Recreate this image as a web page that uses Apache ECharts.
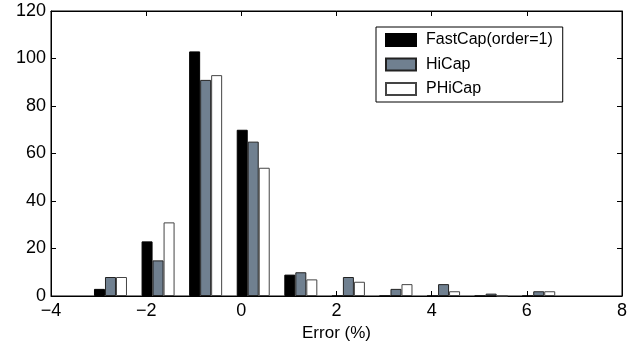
<!DOCTYPE html>
<html>
<head>
<meta charset="utf-8">
<script src="https://cdn.jsdelivr.net/npm/echarts@6/dist/echarts.min.js"></script>
<style>
  html, body { margin: 0; padding: 0; background: #fff; }
  #main { width: 644px; height: 351px; }
</style>
</head>
<body>
<div id="main"></div>
<script>
// 误差区间中心 (%)
const binCenters = [-2.75, -1.75, -0.75, 0.25, 1.25, 2.25, 3.25, 4.25, 5.25, 6.25];
// 各方法的样本数
const fastCapCounts = [3, 23, 103, 70, 9, 0, 0, 0, 0, 0];
const hiCapCounts = [8, 15, 91, 65, 10, 8, 3, 5, 1, 2];
const phiCapCounts = [8, 31, 93, 54, 7, 6, 5, 2, 0, 2];
const seriesNames = ['FastCap(order=1)', 'HiCap', 'PHiCap'];

const chart = echarts.init(document.getElementById('main'));

function pairs(vals) {
  return binCenters.map((x, i) => [x, vals[i]]);
}

const fontFamily = '"Liberation Sans", Arial, sans-serif';
const minus = v => String(v).replace('-', '\u2212');

function barSeries(name, vals, color, border) {
  return {
    name: name,
    type: 'bar',
    data: pairs(vals),
    barWidth: 11,
    barGap: '0%',
    itemStyle: { color: color, borderColor: border, borderWidth: 1 }
  };
}

chart.setOption({
  animation: false,
  textStyle: { fontFamily: fontFamily },
  grid: { left: 51, right: 22, top: 11, bottom: 55, show: true, borderColor: '#000', borderWidth: 1 },
  legend: {
    left: 376, top: 27,
    orient: 'vertical',
    itemWidth: 30, itemHeight: 12, itemGap: 8.5,
    padding: [5, 10, 5, 9],
    borderColor: '#000', borderWidth: 1,
    backgroundColor: '#fff',
    textStyle: { fontSize: 16, color: '#000', padding: [0, 0, 0, 5] },
    data: seriesNames.map(n => ({ name: n, icon: 'rect' }))
  },
  xAxis: [{
    type: 'value', min: -4, max: 8, interval: 2,
    name: 'Error (%)', nameLocation: 'middle', nameGap: 18,
    nameTextStyle: { fontSize: 17, color: '#000' },
    axisLine: { onZero: false, lineStyle: { color: '#000' } },
    axisTick: { inside: true, length: 5, lineStyle: { color: '#000' } },
    axisLabel: { fontSize: 18, color: '#000', margin: 6, formatter: minus },
    splitLine: { show: false }
  }, {
    type: 'value', min: -4, max: 8, interval: 2, position: 'top',
    axisLine: { onZero: false, lineStyle: { color: '#000' } },
    axisTick: { inside: true, length: 5, lineStyle: { color: '#000' } },
    axisLabel: { show: false }, splitLine: { show: false }
  }],
  yAxis: [{
    type: 'value', min: 0, max: 120, interval: 20,
    axisLine: { show: true, onZero: false, lineStyle: { color: '#000' } },
    axisTick: { show: true, inside: true, length: 5, lineStyle: { color: '#000' } },
    axisLabel: { fontSize: 18, color: '#000', margin: 5 },
    splitLine: { show: false }
  }, {
    type: 'value', min: 0, max: 120, interval: 20, position: 'right',
    axisLine: { show: true, onZero: false, lineStyle: { color: '#000' } },
    axisTick: { show: true, inside: true, length: 5, lineStyle: { color: '#000' } },
    axisLabel: { show: false }, splitLine: { show: false }
  }],
  series: [
    barSeries(seriesNames[0], fastCapCounts, '#000', '#000'),
    barSeries(seriesNames[1], hiCapCounts, '#708090', '#222'),
    barSeries(seriesNames[2], phiCapCounts, '#fff', '#444')
  ]
});
</script>
</body>
</html>
